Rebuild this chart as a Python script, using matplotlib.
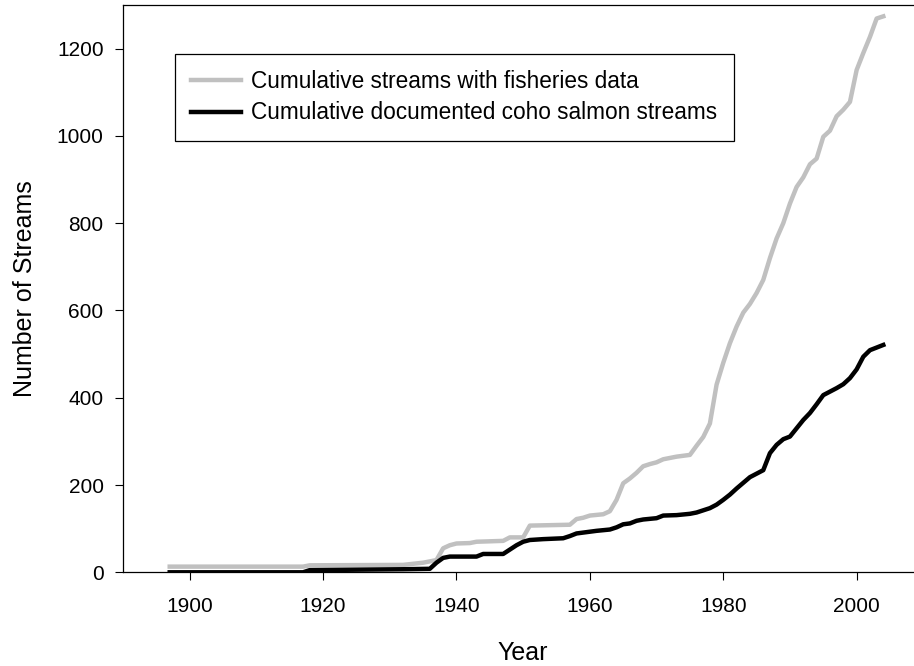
import matplotlib
matplotlib.use("Agg")
import matplotlib.pyplot as plt

plt.rcParams['font.family'] = ['Liberation Sans', 'DejaVu Sans']

# Cumulative streams with fisheries data (grey)
years_all = [1897, 1917, 1918, 1932, 1935, 1937, 1938, 1939, 1940, 1942, 1943,
             1947, 1948, 1950, 1951, 1957, 1958, 1959, 1960, 1962, 1963, 1964,
             1965, 1966, 1967, 1968, 1969, 1970, 1971, 1972, 1973, 1975, 1976,
             1977, 1978, 1979, 1980, 1981, 1982, 1983, 1984, 1985, 1986, 1987,
             1988, 1989, 1990, 1991, 1992, 1993, 1994, 1995, 1996, 1997, 1998,
             1999, 2000, 2001, 2002, 2003, 2004]
streams_all = [13, 13, 16, 17, 22, 28, 55, 62, 66, 67, 70,
               72, 80, 80, 107, 109, 122, 125, 130, 133, 140, 166,
               204, 215, 228, 243, 248, 252, 259, 262, 265, 269, 290,
               310, 341, 430, 480, 525, 563, 595, 615, 640, 670, 720,
               765, 800, 845, 883, 905, 935, 948, 998, 1012, 1045, 1060,
               1078, 1151, 1190, 1227, 1269, 1274]

# Cumulative documented coho salmon streams (black)
years_coho = [1897, 1917, 1918, 1932, 1936, 1937, 1938, 1939, 1943, 1944, 1947,
              1948, 1949, 1950, 1951, 1953, 1956, 1957, 1958, 1959, 1961, 1963,
              1964, 1965, 1966, 1967, 1968, 1970, 1971, 1973, 1975, 1976, 1977,
              1978, 1979, 1980, 1981, 1982, 1983, 1984, 1985, 1986, 1987, 1988,
              1989, 1990, 1991, 1992, 1993, 1994, 1995, 1996, 1997, 1998, 1999,
              2000, 2001, 2002, 2003, 2004]
streams_coho = [0, 0, 5, 7, 8, 22, 33, 36, 36, 42, 42,
                52, 62, 70, 74, 76, 78, 83, 89, 91, 95, 98,
                103, 110, 112, 118, 121, 124, 130, 131, 134, 137, 142,
                147, 155, 166, 178, 192, 205, 218, 226, 234, 273, 292,
                305, 311, 330, 349, 365, 385, 406, 414, 422, 431, 445,
                465, 494, 509, 515, 521]

x_ticks = [1900, 1920, 1940, 1960, 1980, 2000]
y_ticks = [0, 200, 400, 600, 800, 1000, 1200]

fig = plt.figure(figsize=(9.14, 6.66), dpi=100)
# right edge of the frame sits just outside the picture, like the original
ax = fig.add_axes([0.1346, 0.1407, 0.8756, 0.8518])

ax.plot(years_all, streams_all, color='#c0c0c0', lw=3.2, solid_joinstyle='round',
        label='Cumulative streams with fisheries data')
ax.plot(years_coho, streams_coho, color='black', lw=3.2, solid_joinstyle='round',
        label='Cumulative documented coho salmon streams')

ax.set_xlim(1890, 2010)
ax.set_ylim(0, 1300)
ax.set_xticks(x_ticks)
ax.set_yticks(y_ticks)
ax.tick_params(direction='out', length=6, width=0.8, labelsize=15)
ax.tick_params(axis='x', top=False, pad=11.5)
ax.tick_params(axis='y', right=False, pad=8)
for s in ax.spines.values():
    s.set_linewidth(0.9)

ax.set_xlabel('Year', fontsize=18, labelpad=18)
ax.set_ylabel('Number of Streams', fontsize=18, labelpad=14)

leg = ax.legend(loc='upper left', bbox_to_anchor=(175 / 914, 1 - 54 / 666),
                bbox_transform=fig.transFigure, fontsize=16.3, frameon=True,
                fancybox=False, edgecolor='black', framealpha=1,
                handlelength=2.2, borderpad=0.72, labelspacing=0.36,
                handletextpad=0.45, borderaxespad=0)
leg.get_frame().set_linewidth(0.9)

plt.savefig('out.png', dpi=100)
